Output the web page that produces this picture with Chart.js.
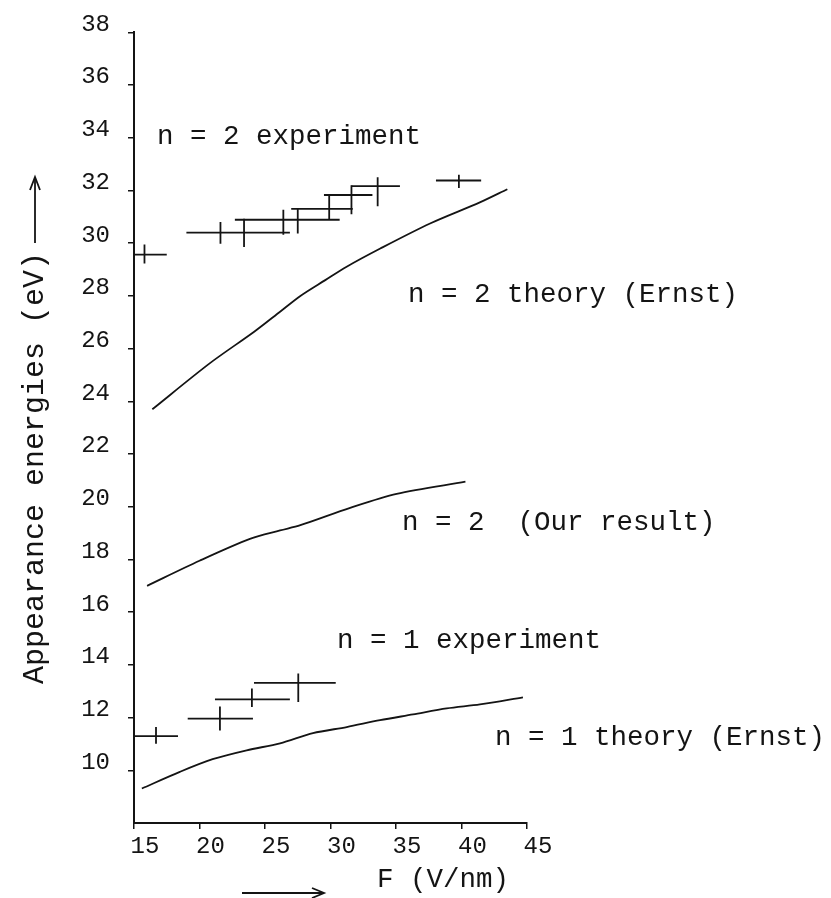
<!DOCTYPE html>
<html><head><meta charset="utf-8">
<script src="https://cdn.jsdelivr.net/npm/chart.js@4.4.1/dist/chart.umd.min.js"></script>
<style>html,body{margin:0;padding:0;background:#fff}#wrap{width:831px;height:898px;position:relative}</style>
</head><body><div id="wrap"><canvas id="c"></canvas></div>
<script>
// ---- data (F in V/nm, energies in eV) ----
const xTickValues = [15, 20, 25, 30, 35, 40, 45];
const yTickValues = [10, 12, 14, 16, 18, 20, 22, 24, 26, 28, 30, 32, 34, 36, 38];

// n = 2 experiment: horizontal field-range bars
const n2BarLo = [15.0, 19.0, 22.7, 27.0, 29.5, 31.6, 38.05];
const n2BarHi = [17.5, 26.9, 30.7, 31.7, 33.2, 35.3, 41.5];
const n2BarE  = [29.57, 30.40, 30.89, 31.30, 31.83, 32.17, 32.38];
// n = 2 experiment: vertical energy error marks
const n2ErrF  = [15.8, 21.6, 23.4, 26.4, 27.5, 29.9, 31.6, 33.6, 39.8];
const n2ErrLo = [29.23, 29.98, 29.86, 30.32, 30.37, 30.89, 31.1, 31.4, 32.1];
const n2ErrHi = [29.95, 30.81, 30.93, 31.27, 31.31, 31.84, 32.2, 32.5, 32.6];

// n = 1 experiment
const n1BarLo = [15.0, 19.1, 21.18, 24.16];
const n1BarHi = [18.36, 24.08, 26.9, 30.4];
const n1BarE  = [11.30, 11.96, 12.69, 13.32];
const n1ErrF  = [16.68, 21.56, 24.0, 27.54];
const n1ErrLo = [11.01, 11.51, 12.4, 12.59];
const n1ErrHi = [11.64, 12.42, 13.1, 13.67];

// n = 2 theory (Ernst)
const ernst2F = [16.4, 20.8, 24.2, 26.15, 27.7, 29.6, 31.2, 33.8, 37.6, 41.4, 43.5];
const ernst2E = [23.7, 25.45, 26.65, 27.4, 28.0, 28.6, 29.1, 29.8, 30.75, 31.55, 32.05];
// n = 2 (our result)
const our2F = [16.0, 20.0, 23.85, 26.15, 27.7, 31.5, 35.05, 40.3];
const our2E = [17.0, 17.95, 18.78, 19.1, 19.3, 19.96, 20.49, 20.95];
// n = 1 theory (Ernst)
const ernst1F = [15.6, 18.5, 21.0, 23.6, 26.15, 28.66, 31.24, 33.78, 36.3, 38.87, 41.41, 44.69];
const ernst1E = [9.31, 9.94, 10.42, 10.76, 11.02, 11.41, 11.64, 11.90, 12.12, 12.35, 12.50, 12.77];

// curve labels (text, anchor F, anchor E)
const labelTexts = ["n = 2 experiment", "n = 2 theory (Ernst)", "n = 2  (Our result)", "n = 1 experiment", "n = 1 theory (Ernst)"];
const labelF = [16.76, 35.92, 35.46, 30.50, 42.56];
const labelE = [34.03, 28.05, 19.39, 14.92, 11.25];

const yTitle = "Appearance energies (eV)";
const xTitle = "F (V/nm)";

// ---- build datasets ----
function curve(fs, es) { return fs.map((f, i) => ({x: f, y: es[i]})); }
function hBars(lo, hi, e) {
  const out = [];
  lo.forEach((l, i) => { out.push({x: l, y: e[i]}, {x: hi[i], y: e[i]}, {x: hi[i], y: null}); });
  return out;
}
function vBars(f, lo, hi) {
  const out = [];
  f.forEach((v, i) => { out.push({x: v, y: lo[i]}, {x: v, y: hi[i]}, {x: v, y: null}); });
  return out;
}
const INK = '#141414';
const lineStyle = {borderColor: INK, borderWidth: 1.8, pointRadius: 0, fill: false};

const annotate = {
  id: 'annotate',
  afterDraw(chart) {
    const ctx = chart.ctx, xs = chart.scales.x, ys = chart.scales.y;
    ctx.save();
    ctx.fillStyle = INK;
    ctx.strokeStyle = INK;
    ctx.font = '27.5px "Liberation Mono", monospace';
    ctx.textBaseline = 'middle';
    ctx.textAlign = 'left';
    labelTexts.forEach((t, i) => {
      ctx.fillText(t, xs.getPixelForValue(labelF[i]), ys.getPixelForValue(labelE[i]));
    });
    // x title and arrow
    ctx.fillText(xTitle, 377, 880);
    ctx.lineWidth = 1.8;
    ctx.beginPath(); ctx.moveTo(242, 893); ctx.lineTo(323, 893); ctx.stroke();
    ctx.beginPath(); ctx.moveTo(312, 888); ctx.lineTo(324, 893); ctx.lineTo(312, 898); ctx.stroke();
    // y title and arrow
    ctx.save();
    ctx.translate(35, 468);
    ctx.rotate(-Math.PI / 2);
    ctx.font = '30px "Liberation Mono", monospace';
    ctx.textAlign = 'center';
    ctx.fillText(yTitle, 0, 0);
    ctx.restore();
    ctx.beginPath(); ctx.moveTo(35, 243); ctx.lineTo(35, 178); ctx.stroke();
    ctx.beginPath(); ctx.moveTo(30, 190); ctx.lineTo(35, 177); ctx.lineTo(40, 190); ctx.stroke();
    ctx.restore();
  }
};

new Chart(document.getElementById('c'), {
  type: 'line',
  data: {
    datasets: [
      Object.assign({label: 'n = 2 theory (Ernst)', data: curve(ernst2F, ernst2E), tension: 0.3}, lineStyle),
      Object.assign({label: 'n = 2 (Our result)', data: curve(our2F, our2E), tension: 0.3}, lineStyle),
      Object.assign({label: 'n = 1 theory (Ernst)', data: curve(ernst1F, ernst1E), tension: 0.3}, lineStyle),
      Object.assign({label: 'n = 2 experiment F', data: hBars(n2BarLo, n2BarHi, n2BarE), tension: 0, spanGaps: false}, lineStyle),
      Object.assign({label: 'n = 2 experiment E', data: vBars(n2ErrF, n2ErrLo, n2ErrHi), tension: 0, spanGaps: false}, lineStyle),
      Object.assign({label: 'n = 1 experiment F', data: hBars(n1BarLo, n1BarHi, n1BarE), tension: 0, spanGaps: false}, lineStyle),
      Object.assign({label: 'n = 1 experiment E', data: vBars(n1ErrF, n1ErrLo, n1ErrHi), tension: 0, spanGaps: false}, lineStyle)
    ]
  },
  options: {
    responsive: true,
    maintainAspectRatio: false,
    animation: false,
    layout: {padding: {left: 0, top: 30, right: 304, bottom: 0}},
    plugins: {legend: {display: false}, tooltip: {enabled: false}},
    scales: {
      x: {
        type: 'linear', min: 15, max: 45,
        afterBuildTicks(s) { s.ticks = xTickValues.map(v => ({value: v})); },
        afterFit(s) { s.height = 75; },
        grid: {drawOnChartArea: false, drawTicks: true, tickLength: 6, color: INK, lineWidth: 1.5},
        border: {display: true, color: INK, width: 2},
        ticks: {color: INK, font: {family: '"Liberation Mono", monospace', size: 24}, padding: 3, labelOffset: 11, maxRotation: 0}
      },
      y: {
        type: 'linear', min: 8, max: 38,
        afterBuildTicks(s) { s.ticks = yTickValues.map(v => ({value: v})); },
        afterFit(s) { s.width = 134; },
        grid: {drawOnChartArea: false, drawTicks: true, tickLength: 6, color: INK, lineWidth: 1.5},
        border: {display: true, color: INK, width: 2},
        ticks: {color: INK, font: {family: '"Liberation Mono", monospace', size: 24}, padding: 18, labelOffset: -8}
      }
    }
  },
  plugins: [annotate]
});
</script></body></html>
